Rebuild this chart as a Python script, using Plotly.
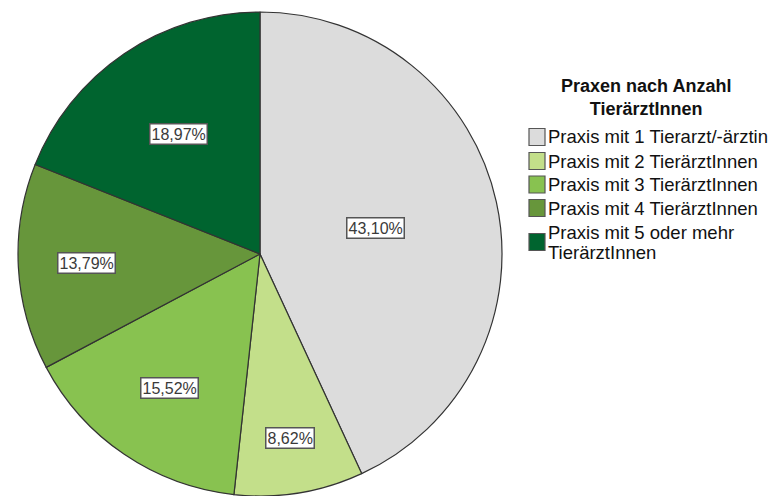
import math
import plotly.graph_objects as go

# Share of veterinary practices by number of vets (percent)
categories = [
    "Praxis mit 1 Tierarzt/-ärztin",
    "Praxis mit 2 TierärztInnen",
    "Praxis mit 3 TierärztInnen",
    "Praxis mit 4 TierärztInnen",
    "Praxis mit 5 oder mehr TierärztInnen",
]
# how each legend entry is broken into lines
legend_lines = [
    ["Praxis mit 1 Tierarzt/-ärztin"],
    ["Praxis mit 2 TierärztInnen"],
    ["Praxis mit 3 TierärztInnen"],
    ["Praxis mit 4 TierärztInnen"],
    ["Praxis mit 5 oder mehr", "TierärztInnen"],
]
shares = [43.10, 8.62, 15.52, 13.79, 18.97]
legend_title = ["Praxen nach Anzahl", "TierärztInnen"]

colors = ["#dcdcdc", "#c3df8a", "#88c250", "#67963b", "#00642f"]

W, H = 774, 496
FONT = "Liberation Sans, Arial"
# pie placement in pixels
cx, cy, R = 260, 254, 242
# radial distance of each value box as a fraction of the radius
label_r = [0.49, 0.77, 0.67, 0.72, 0.60]

fig = go.Figure(
    go.Pie(
        labels=categories,
        values=shares,
        sort=False,
        direction="clockwise",
        rotation=0,
        marker=dict(colors=colors, line=dict(color="#333333", width=1.2)),
        textinfo="none",
        hoverinfo="label+percent",
        domain=dict(x=[(cx - R) / W, (cx + R) / W], y=[(H - cy - R) / H, (H - cy + R) / H]),
        showlegend=False,
    )
)

def fmt(v):
    return f"{v:.2f}".replace(".", ",") + "%"

def px2paper(x, y):
    return x / W, 1 - y / H

annotations = []
total = sum(shares)
cum = 0.0
for v, rf in zip(shares, label_r):
    mid = (cum + v / 2) / total * 2 * math.pi
    cum += v
    x, y = px2paper(cx + rf * R * math.sin(mid), cy - rf * R * math.cos(mid))
    annotations.append(dict(
        x=x, y=y, xref="paper", yref="paper",
        text=fmt(v), showarrow=False,
        font=dict(family=FONT, size=16, color="#3a3a3a"),
        bgcolor="#ffffff", bordercolor="#555555", borderwidth=1.5, borderpad=1,
        xanchor="center", yanchor="middle",
    ))

# legend title (two centred lines)
x, y = px2paper(646, 97)
annotations.append(dict(
    x=x, y=y, xref="paper", yref="paper",
    text="<br>".join("<b>" + s + "</b>" for s in legend_title), showarrow=False,
    font=dict(family=FONT, size=18, color="#111111"),
    xanchor="center", yanchor="middle", align="center",
))

# legend entries: swatch + text lines
swatch_y = [137, 161, 184.5, 208, 242]
line_gap = 20
shapes = []
for lines, col, sy in zip(legend_lines, colors, swatch_y):
    x0, y0 = px2paper(529, sy + 8.5)
    x1, y1 = px2paper(545, sy - 8.5)
    shapes.append(dict(
        type="rect", xref="paper", yref="paper",
        x0=x0, x1=x1, y0=y0, y1=y1,
        fillcolor=col, line=dict(color="#555555", width=1.2),
    ))
    first = sy - line_gap * (len(lines) - 1) / 2
    for k, line in enumerate(lines):
        x, y = px2paper(546, first + k * line_gap)
        annotations.append(dict(
            x=x, y=y, xref="paper", yref="paper",
            text=line, showarrow=False,
            font=dict(family=FONT, size=18.5, color="#111111"),
            xanchor="left", yanchor="middle", align="left",
        ))

fig.update_layout(
    width=W, height=H,
    margin=dict(l=0, r=0, t=0, b=0),
    paper_bgcolor="#ffffff", plot_bgcolor="#ffffff",
    annotations=annotations, shapes=shapes,
)

fig.write_html("out.html")
